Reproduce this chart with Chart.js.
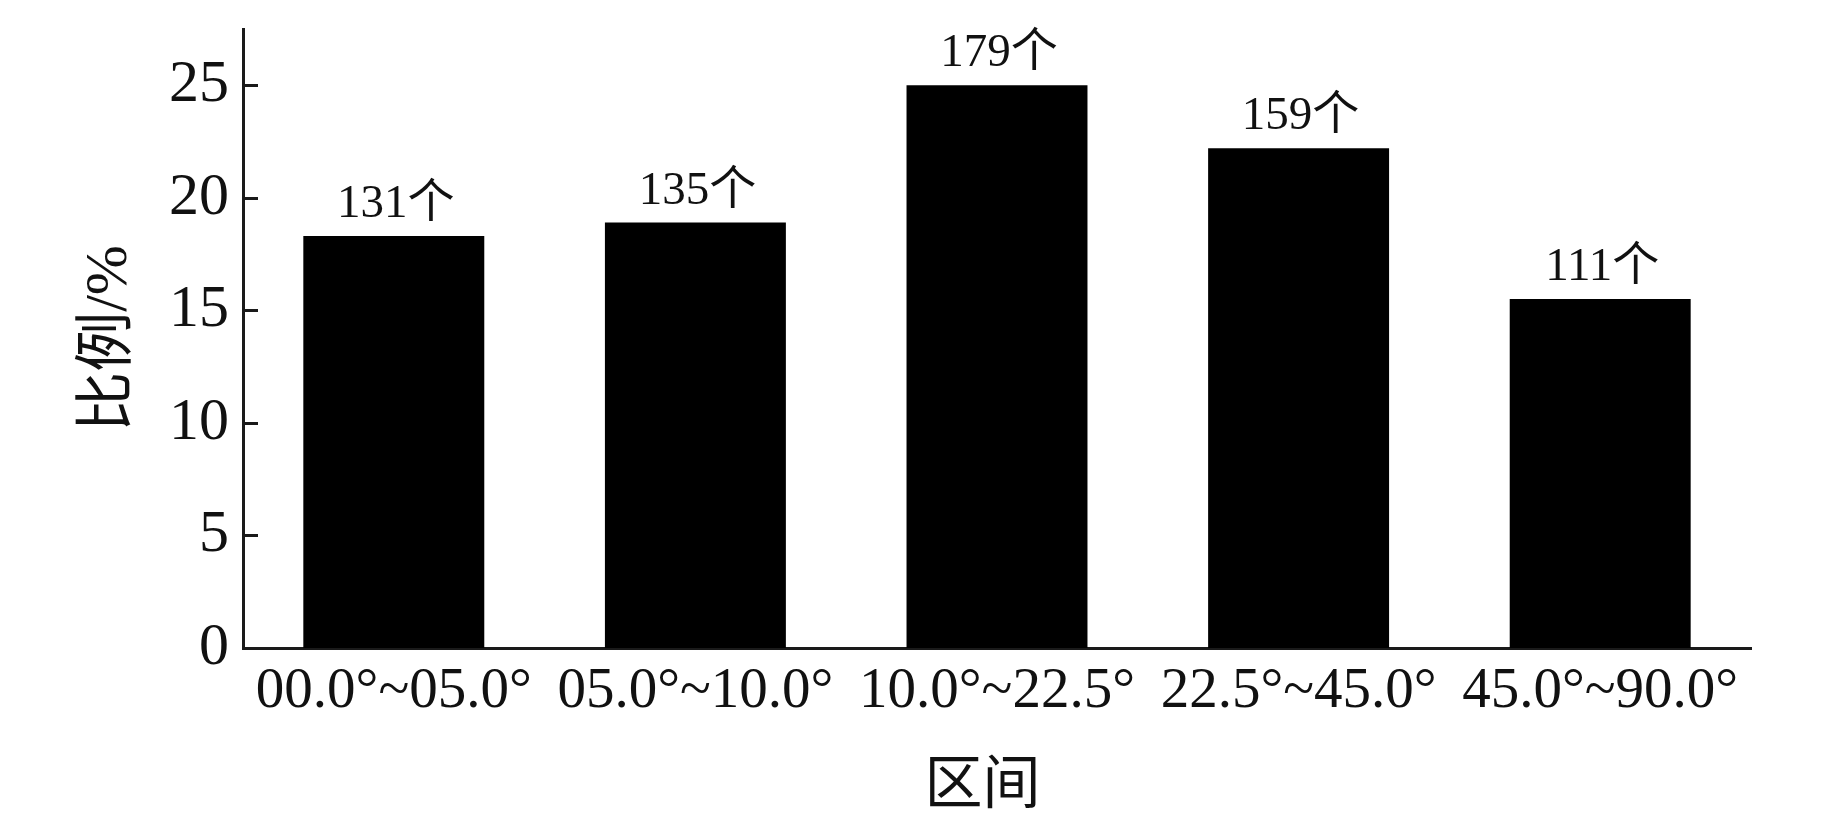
<!DOCTYPE html>
<html>
<head>
<meta charset="utf-8">
<script src="https://cdn.jsdelivr.net/npm/chart.js@4.4.1/dist/chart.umd.min.js"></script>
<style>
  html, body { margin: 0; padding: 0; background: #fff; }
  #wrap { width: 1843px; height: 827px; position: relative; }
</style>
</head>
<body>
<div id="wrap"><canvas id="c" width="1843" height="827"></canvas></div>
<script>
const categories = ['00.0°~05.0°', '05.0°~10.0°', '10.0°~22.5°', '22.5°~45.0°', '45.0°~90.0°'];
const proportions = [18.3, 18.9, 25.0, 22.2, 15.5];
const counts = [131, 135, 179, 159, 111];
const yTicks = [0, 5, 10, 15, 20, 25];
const yMax = 27.5;

const SERIF = '"Liberation Serif", "Times New Roman", "Noto Sans CJK SC", serif';
const INK = '#111111';
const AXIS = '#1a1a1a';

const innerTicks = {
  id: 'innerTicks',
  afterDraw(chart) {
    const ctx = chart.ctx;
    const y = chart.scales.y;
    const left = chart.chartArea.left;
    ctx.save();
    ctx.strokeStyle = AXIS;
    ctx.lineWidth = 3;
    yTicks.forEach(v => {
      const py = Math.round(y.getPixelForValue(v)) + 0.5;
      ctx.beginPath();
      ctx.moveTo(left, py);
      ctx.lineTo(left + 15, py);
      ctx.stroke();
    });
    ctx.restore();
  }
};

const valueLabels = {
  id: 'valueLabels',
  afterDatasetsDraw(chart) {
    const ctx = chart.ctx;
    const meta = chart.getDatasetMeta(0);
    ctx.save();
    ctx.fillStyle = INK;
    ctx.font = '47px ' + SERIF;
    ctx.textAlign = 'center';
    ctx.textBaseline = 'alphabetic';
    meta.data.forEach((bar, i) => {
      ctx.fillText(counts[i] + '个', bar.x + 2, bar.y - 19);
    });
    ctx.restore();
  }
};

new Chart(document.getElementById('c'), {
  type: 'bar',
  data: {
    labels: categories,
    datasets: [{
      data: proportions,
      backgroundColor: '#000000',
      borderWidth: 0,
      barPercentage: 0.6,
      categoryPercentage: 1.0
    }]
  },
  options: {
    responsive: false,
    animation: false,
    devicePixelRatio: 1,
    layout: { padding: { left: 0, right: 92, top: 29, bottom: 0 } },
    plugins: { legend: { display: false }, tooltip: { enabled: false } },
    scales: {
      x: {
        type: 'category',
        offset: true,
        grid: { display: false, drawTicks: false },
        border: { display: true, color: AXIS, width: 3 },
        ticks: {
          color: INK,
          font: { family: SERIF, size: 57 },
          padding: 10,
          maxRotation: 0,
          autoSkip: false
        },
        title: {
          display: true,
          text: '区间  ',
          color: INK,
          font: { family: SERIF, size: 58 },
          padding: { top: 0, bottom: 4 }
        },
        afterFit(scale) { scale.height = 179; scale.paddingLeft = 0; scale.paddingRight = 0; }
      },
      y: {
        type: 'linear',
        min: 0,
        max: yMax,
        grid: { display: false, drawTicks: false },
        border: { display: true, color: AXIS, width: 3 },
        ticks: {
          stepSize: 5,
          includeBounds: false,
          color: INK,
          font: { family: SERIF, size: 60 },
          padding: 14
        },
        afterBuildTicks(scale) {
          scale.ticks = yTicks.map(v => ({ value: v }));
        },
        title: {
          display: true,
          text: '比例/%',
          color: INK,
          font: { family: SERIF, size: 60 },
          padding: { top: 74, bottom: 0 }
        },
        afterFit(scale) { scale.width = 243; scale.paddingTop = 0; scale.paddingBottom = 0; }
      }
    }
  },
  plugins: [innerTicks, valueLabels]
});
</script>
</body>
</html>
